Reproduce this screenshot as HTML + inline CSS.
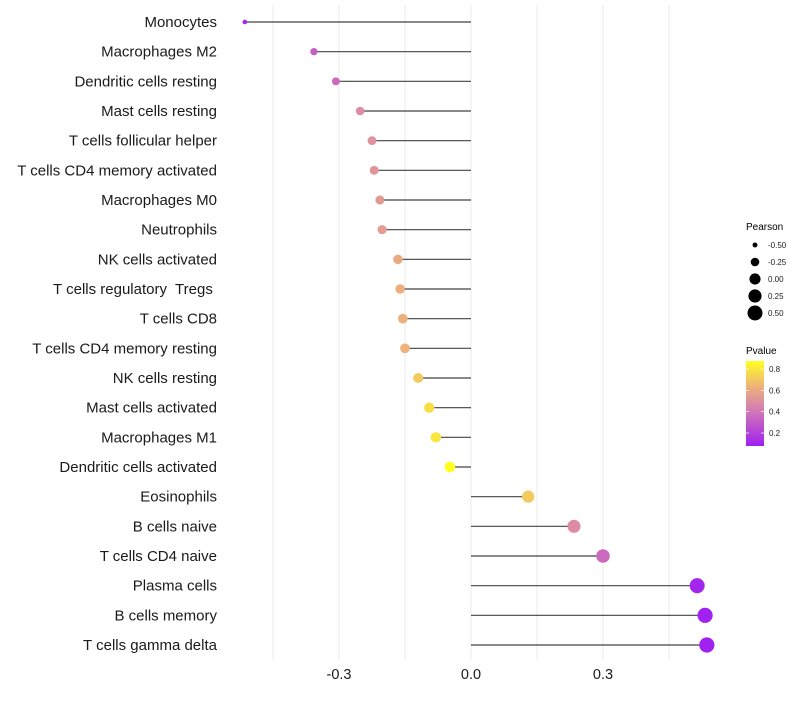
<!DOCTYPE html>
<html><head><meta charset="utf-8"><style>
body{margin:0;background:#fff;font-family:"Liberation Sans",sans-serif}
text{white-space:pre}
</style></head><body>
<svg id="chart" width="800" height="700" xmlns="http://www.w3.org/2000/svg" font-family="Liberation Sans, sans-serif">
<defs><linearGradient id="pg" x1="0" y1="1" x2="0" y2="0">
<stop offset="0" stop-color="#a020f0"/><stop offset="0.45" stop-color="#d681b0"/><stop offset="0.7" stop-color="#eeb27a"/><stop offset="1" stop-color="#ffff20"/></linearGradient></defs>
<g id="grid"></g><g id="marks"></g><g id="labels"></g><g id="legend"></g>
</svg>
<script>
const categories=["Monocytes","Macrophages M2","Dendritic cells resting","Mast cells resting","T cells follicular helper","T cells CD4 memory activated","Macrophages M0","Neutrophils","NK cells activated","T cells regulatory  Tregs ","T cells CD8","T cells CD4 memory resting","NK cells resting","Mast cells activated","Macrophages M1","Dendritic cells activated","Eosinophils","B cells naive","T cells CD4 naive","Plasma cells","B cells memory","T cells gamma delta"];
const pearson=[-0.514,-0.357,-0.307,-0.252,-0.225,-0.22,-0.207,-0.202,-0.166,-0.161,-0.155,-0.15,-0.12,-0.095,-0.08,-0.048,0.13,0.234,0.30,0.514,0.532,0.536];
const pvalue=[0.1,0.32,0.36,0.5,0.52,0.53,0.55,0.56,0.62,0.63,0.64,0.65,0.72,0.78,0.8,0.88,0.72,0.5,0.36,0.1,0.08,0.08];
const xTicks=[-0.3,0,0.3];
const xTickLabels=["-0.3","0.0","0.3"];
const sizeBreaks=[-0.5,-0.25,0,0.25,0.5];
const sizeLabels=["-0.50","-0.25","0.00","0.25","0.50"];
const pBreaks=[0.8,0.6,0.4,0.2];
const NS="http://www.w3.org/2000/svg";
const x=v=>471+v*440;
const y=i=>22+i*(645-22)/21;
const r=v=>Math.sqrt(Math.max(1,31+50*v));
const stops=[[0.078,[160,32,240]],[0.45,[214,129,176]],[0.65,[238,178,122]],[0.875,[255,255,32]]];
function col(p){if(p<=stops[0][0])return 'rgb('+stops[0][1]+')';for(let k=1;k<stops.length;k++){if(p<=stops[k][0]){const a=stops[k-1],b=stops[k],t=(p-a[0])/(b[0]-a[0]);return 'rgb('+a[1].map((c,j)=>Math.round(c+(b[1][j]-c)*t)).join(',')+')';}}return 'rgb('+stops[3][1]+')';}
function mk(t,at,parent){const e=document.createElementNS(NS,t);for(const k in at)e.setAttribute(k,at[k]);parent.appendChild(e);return e;}
const G=document.getElementById('grid'),M=document.getElementById('marks'),L=document.getElementById('labels'),LG=document.getElementById('legend');
[-0.45,-0.3,-0.15,0,0.15,0.3,0.45].forEach(v=>{const l=mk('line',{x1:x(v),x2:x(v),y1:5,y2:660,stroke:'#ebebeb','stroke-width':1},G);

});
categories.forEach((c,i)=>{
const s=mk('line',{x1:x(0),x2:x(pearson[i]),y1:y(i),y2:y(i),stroke:'#222','stroke-width':1.2,'stroke-opacity':0.85},M);


const d=mk('circle',{cx:x(pearson[i]),cy:y(i),r:r(pearson[i]),fill:col(pvalue[i])},M);


const t=mk('text',{x:217,y:y(i)+5,'text-anchor':'end','font-size':15,fill:'#1a1a1a'},L);t.textContent=c;


});
xTicks.forEach((v,i)=>{const t=mk('text',{x:x(v),y:679,'text-anchor':'middle','font-size':14.5,fill:'#1a1a1a'},L);t.textContent=xTickLabels[i];

});
let t=mk('text',{x:746,y:230,'font-size':10,fill:'#000'},LG);t.textContent='Pearson';


sizeBreaks.forEach((v,i)=>{const cy=245+i*17;const c=mk('circle',{cx:755,cy:cy,r:r(v),fill:'#000'},LG);


const tt=mk('text',{x:768,y:cy+3,'font-size':8,fill:'#222'},LG);tt.textContent=sizeLabels[i];

});
t=mk('text',{x:746,y:354,'font-size':10,fill:'#000'},LG);t.textContent='Pvalue';


const bar=mk('rect',{x:746,y:361,width:18,height:85,fill:'url(#pg)'},LG);


pBreaks.forEach(p=>{const yy=361+(0.875-p)/0.1*10.67;
mk('line',{x1:746,x2:749,y1:yy,y2:yy,stroke:'#fff','stroke-width':0.7},LG);mk('line',{x1:761,x2:764,y1:yy,y2:yy,stroke:'#fff','stroke-width':0.7},LG);
const tt=mk('text',{x:769,y:yy+3,'font-size':8,fill:'#222'},LG);tt.textContent=p.toFixed(1);

});
</script>
</body></html>
